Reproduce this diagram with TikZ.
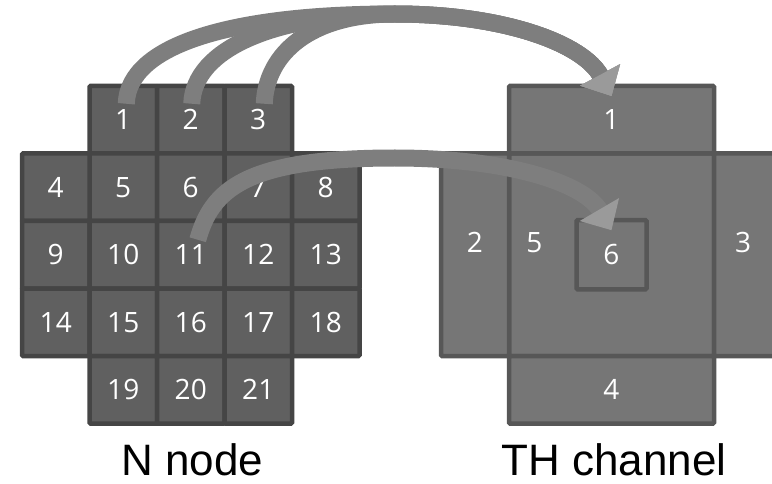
\documentclass[tikz,border=0pt]{standalone}
\usepackage{fontspec}
\setmainfont{Liberation Sans}
\newfontfamily\cellfont{Open Sans}
\usepackage{tikz}
\usetikzlibrary{shapes,arrows.meta}
\usetikzlibrary{positioning}
\definecolor{nfill}{HTML}{606060}
\definecolor{nline}{HTML}{454545}
\definecolor{tfill}{HTML}{767676}
\definecolor{tline}{HTML}{575757}
\definecolor{arrowgray}{HTML}{7E7E7E}
\definecolor{headgray}{HTML}{9A9A9A}
\tikzstyle{ncell} = [draw=nline, fill=nfill, line width=4.5pt, rounded corners=1pt,
    minimum size=67.5pt, inner sep=0pt, outer sep=0pt, text=white,
    font=\cellfont\fontsize{28}{30}\selectfont]
\tikzstyle{tcell} = [draw=tline, fill=tfill, line width=4.5pt, rounded corners=1pt,
    inner sep=0pt, outer sep=0pt, text=white,
    font=\cellfont\fontsize{28}{30}\selectfont]
\tikzstyle{tlabel} = [text=white, font=\cellfont\fontsize{28}{30}\selectfont]
\tikzstyle{fatarrow} = [draw=arrowgray, line width=17pt,
    -{Triangle[width=44pt,length=24pt,color=headgray]}]
\tikzstyle{caption} = [anchor=base, inner sep=0pt, text depth=0pt,
    font=\fontsize{44}{48}\selectfont]

\begin{document}
\begin{tikzpicture}[x=1pt, y=-1pt, node distance=0pt]
  \useasboundingbox (0,0) rectangle (772,484);
  % N node
  \node [ncell] (n1) at (123.25,119.75) {1};
  \node [ncell, right=of n1] (n2) {2};
  \node [ncell, right=of n2] (n3) {3};
  \node [ncell, below=of n1] (n5) {5};
  \node [ncell, left=of n5] (n4) {4};
  \node [ncell, right=of n5] (n6) {6};
  \node [ncell, right=of n6] (n7) {7};
  \node [ncell, right=of n7] (n8) {8};
  \node [ncell, below=of n4] (n9) {9};
  \node [ncell, right=of n9] (n10) {10};
  \node [ncell, right=of n10] (n11) {11};
  \node [ncell, right=of n11] (n12) {12};
  \node [ncell, right=of n12] (n13) {13};
  \node [ncell, below=of n9] (n14) {14};
  \node [ncell, right=of n14] (n15) {15};
  \node [ncell, right=of n15] (n16) {16};
  \node [ncell, right=of n16] (n17) {17};
  \node [ncell, right=of n17] (n18) {18};
  \node [ncell, below=of n15] (n19) {19};
  \node [ncell, right=of n19] (n20) {20};
  \node [ncell, right=of n20] (n21) {21};
  % TH channel
  \node [tcell, minimum width=205pt, minimum height=202.5pt,
    label={[tlabel, xshift=-77pt, yshift=12pt]center:5}] (t5) at (611.5,254.75) {};
  \node [tcell, minimum width=205pt, minimum height=67.5pt, above=of t5] (t1) {1};
  \node [tcell, minimum width=205pt, minimum height=67.5pt, below=of t5] (t4) {4};
  \node [tcell, minimum width=68pt, minimum height=202.5pt, left=of t5,
    label={[tlabel, yshift=12pt]center:2}] (t2) {};
  \node [tcell, minimum width=68pt, minimum height=202.5pt, right=of t5,
    label={[tlabel, xshift=-5pt, yshift=12pt]center:3}] (t3) {};
  \node [tcell, minimum width=70pt, minimum height=69pt] (t6) at (t5.center) {6};
  % arrows
  \coordinate (topbend) at (395,14);
  \coordinate (midbend) at (395,158);
  \draw [fatarrow] ([shift={(3pt,16pt)}]n1.center) .. controls +(2,-60) and +(-160,0) .. (topbend)
    .. controls +(110,0) and +(-28,-52) .. ([yshift=-10pt]t1.north);
  \draw [fatarrow] ([shift={(1pt,16pt)}]n2.center) .. controls +(2,-55) and +(-120,0) .. (topbend)
    .. controls +(110,0) and +(-28,-52) .. ([yshift=-10pt]t1.north);
  \draw [fatarrow] ([shift={(6pt,16pt)}]n3.center) .. controls +(2,-50) and +(-85,0) .. (topbend)
    .. controls +(110,0) and +(-28,-52) .. ([yshift=-10pt]t1.north);
  \draw [fatarrow] ([shift={(7pt,15pt)}]n11.center) .. controls +(14,-50) and +(-150,0) .. (midbend)
    .. controls +(110,0) and +(-28,-48) .. ([yshift=-10pt]t6.north);
  % captions
  \node [caption] (ncap) at (192.5,475) {N node};
  \node [caption] (tcap) at (614,475) {TH channel};
\end{tikzpicture}
\end{document}
